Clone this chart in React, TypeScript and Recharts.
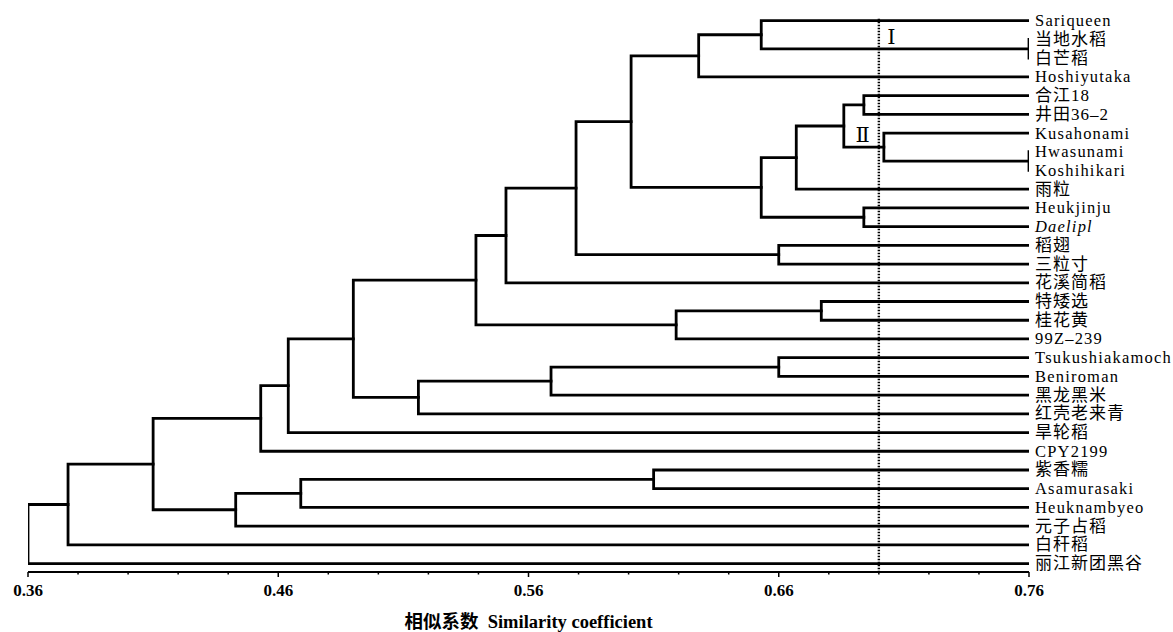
import { ComposedChart, Line, XAxis, YAxis, ReferenceLine, ReferenceDot } from 'recharts';

// leaves, top to bottom
const leaves = [
  'Sariqueen', '当地水稻', '白芒稻', 'Hoshiyutaka', '合江18', '井田36–2',
  'Kusahonami', 'Hwasunami', 'Koshihikari', '雨粒', 'Heukjinju', 'Daelipl',
  '稻翅', '三粒寸', '花溪简稻', '特矮选', '桂花黄', '99Z–239',
  'Tsukushiakamoch', 'Beniroman', '黑龙黑米', '红壳老来青', '旱轮稻', 'CPY2199',
  '紫香糯', 'Asamurasaki', 'Heuknambyeo', '元子占稻', '白秆稻', '丽江新团黑谷',
];

// [cluster id, left child, right child, similarity at which they join]
const merges: [string, string, string, number][] = [
  ['A', '当地水稻', '白芒稻', 0.76],
  ['B', 'Sariqueen', 'A', 0.653],
  ['C', 'B', 'Hoshiyutaka', 0.628],
  ['D', '合江18', '井田36–2', 0.694],
  ['E', 'Hwasunami', 'Koshihikari', 0.76],
  ['F', 'Kusahonami', 'E', 0.702],
  ['G', 'D', 'F', 0.686],
  ['H', 'G', '雨粒', 0.667],
  ['I', 'Heukjinju', 'Daelipl', 0.694],
  ['J', 'H', 'I', 0.653],
  ['K', 'C', 'J', 0.601],
  ['L', '稻翅', '三粒寸', 0.66],
  ['M', 'K', 'L', 0.579],
  ['N', 'M', '花溪简稻', 0.551],
  ['O', '特矮选', '桂花黄', 0.677],
  ['P', 'O', '99Z–239', 0.619],
  ['Q', 'N', 'P', 0.539],
  ['R', 'Tsukushiakamoch', 'Beniroman', 0.66],
  ['S', 'R', '黑龙黑米', 0.569],
  ['T', 'S', '红壳老来青', 0.516],
  ['U', 'Q', 'T', 0.49],
  ['V', 'U', '旱轮稻', 0.464],
  ['W', 'V', 'CPY2199', 0.453],
  ['X', '紫香糯', 'Asamurasaki', 0.61],
  ['Y', 'X', 'Heuknambyeo', 0.469],
  ['Z', 'Y', '元子占稻', 0.443],
  ['AA', 'W', 'Z', 0.41],
  ['AB', 'AA', '白秆稻', 0.376],
  ['AC', 'AB', '丽江新团黑谷', 0.36],
];

const xTicks = [0.36, 0.38, 0.4, 0.42, 0.44, 0.46, 0.48, 0.5, 0.52, 0.54, 0.56, 0.58, 0.6, 0.62, 0.64, 0.66, 0.68, 0.7, 0.72, 0.74, 0.76];
const majorTicks = ['0.36', '0.46', '0.56', '0.66', '0.76'];
const cutoff = 0.70;
const groupLabels = [
  { text: 'Ⅰ', x: 0.705, y: 0.85 },
  { text: 'Ⅱ', x: 0.6935, y: 6.1 },
];

const SERIF = "'Liberation Serif', 'Times New Roman', 'Noto Sans CJK SC', serif";

// work out where each cluster sits
const nodeY: Record<string, number> = {};
const nodeH: Record<string, number> = {};
leaves.forEach((name, i) => {
  nodeY[name] = i;
  nodeH[name] = 0.76;
});
const links = merges.map(([id, a, b, h]) => {
  nodeY[id] = (nodeY[a] + nodeY[b]) / 2;
  nodeH[id] = h;
  return {
    id,
    points: [
      { x: nodeH[a], y: nodeY[a] },
      { x: h, y: nodeY[a] },
      { x: h, y: nodeY[b] },
      { x: nodeH[b], y: nodeY[b] },
    ],
  };
});

const hasCJK = (s: string) => /[\u4e00-\u9fff]/.test(s);

const LeafTick = ({ x, y, payload }: any) => {
  const name = leaves[payload.value];
  const cjk = hasCJK(name);
  return (
    <text
      x={x + 6}
      y={y}
      dominantBaseline="central"
      textAnchor="start"
      fill="#000"
      fontFamily={SERIF}
      fontSize={cjk ? 17 : 16.5}
      letterSpacing={cjk ? 1 : 1.2}
      fontStyle={name === 'Daelipl' ? 'italic' : 'normal'}
    >
      {name}
    </text>
  );
};

const AxisTick = ({ x, y, payload }: any) => {
  const label = Number(payload.value).toFixed(2);
  const major = majorTicks.includes(label);
  return (
    <g>
      <line x1={x} x2={x} y1={y} y2={y + (major ? 5 : 2.5)} stroke="#000" strokeWidth={1.5} />
      {major && (
        <text x={x} y={y + 24} textAnchor="middle" fill="#000" fontFamily={SERIF} fontSize={17} fontWeight="bold">
          {label}
        </text>
      )}
    </g>
  );
};

export default function App() {
  return (
    <div style={{ position: 'absolute', left: 0, top: 0, background: '#fff' }}>
      <ComposedChart width={1173} height={632} margin={{ top: 2, right: 0, left: 28, bottom: 0 }}>
        <XAxis
          type="number"
          dataKey="x"
          domain={[0.36, 0.76]}
          ticks={xTicks}
          interval={0}
          allowDataOverflow
          height={60}
          tickLine={false}
          tickSize={0}
          tickMargin={0}
          axisLine={{ stroke: '#000', strokeWidth: 2 }}
          tick={<AxisTick />}
          label={{
            value: '相似系数\u00a0\u00a0Similarity coefficient',
            position: 'insideBottom',
            offset: 4,
            style: { fontFamily: SERIF, fontSize: 18.5, fontWeight: 'bold', fill: '#000' },
          }}
        />
        <YAxis
          type="number"
          orientation="right"
          domain={[-1, 29.45]}
          reversed
          allowDataOverflow
          ticks={leaves.map((_, i) => i)}
          interval={0}
          width={144}
          axisLine={false}
          tickLine={false}
          tickSize={0}
          tickMargin={0}
          tick={<LeafTick />}
        />
        <ReferenceLine
          segment={[{ x: cutoff, y: -0.1 }, { x: cutoff, y: 29.45 }]}
          stroke="#000"
          strokeWidth={2.4}
          strokeDasharray="1.5 1.5"
        />
        {links.map((l) => (
          <Line
            key={l.id}
            data={l.points}
            dataKey="y"
            type="linear"
            stroke="#000"
            strokeWidth={2.8}
            strokeLinejoin="miter"
            strokeLinecap="square"
            dot={false}
            activeDot={false}
            isAnimationActive={false}
          />
        ))}
        {groupLabels.map((g) => (
          <ReferenceDot
            key={g.text}
            x={g.x}
            y={g.y}
            r={0}
            fill="none"
            stroke="none"
            label={{ value: g.text, position: 'center', style: { fontFamily: "'DejaVu Serif', serif", fontSize: 21, fill: '#000' } }}
          />
        ))}
      </ComposedChart>
    </div>
  );
}
